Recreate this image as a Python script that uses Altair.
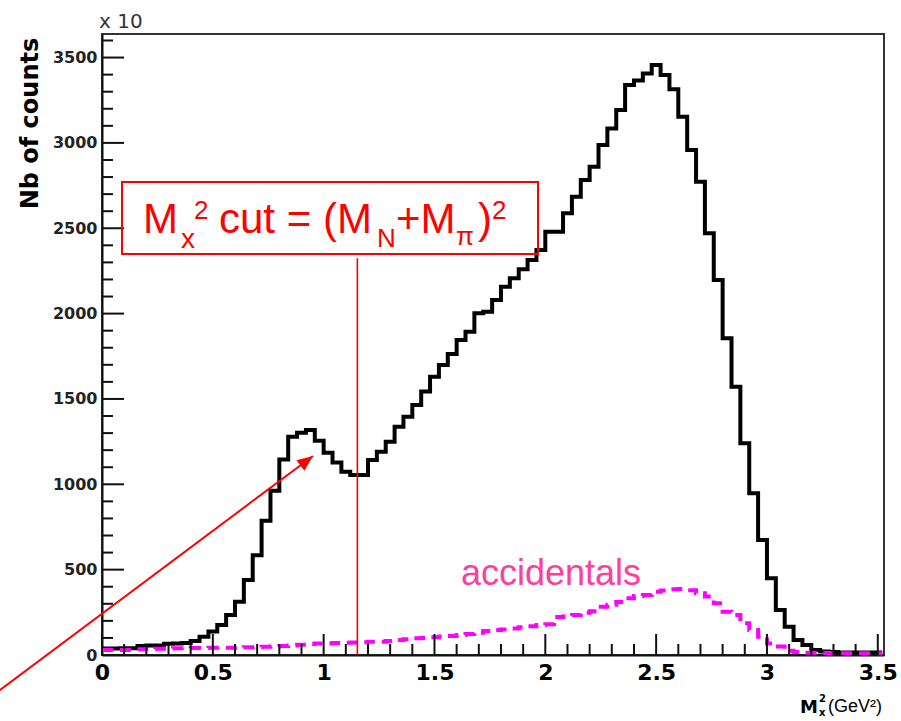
import altair as alt
import pandas as pd

# ---------------- data ----------------
BIN_WIDTH = 0.04  # GeV^2, histogram bins starting at 0

counts = [
    38, 38, 39, 40, 52, 55, 56, 66, 68, 70,
    82, 107, 137, 176, 234, 312, 439, 584, 786, 962,
    1146, 1279, 1302, 1318, 1255, 1185, 1127, 1074, 1054, 1054,
    1142, 1191, 1250, 1337, 1396, 1465, 1543, 1630, 1699, 1763,
    1845, 1894, 2002, 2011, 2080, 2158, 2207, 2260, 2314, 2373,
    2480, 2480, 2588, 2685, 2783, 2861, 2988, 3085, 3193, 3339,
    3365, 3407, 3456, 3398, 3315, 3153, 2959, 2773, 2471, 2197,
    1855, 1572, 1240, 947, 674, 449, 264, 166, 88, 59,
    29, 20, 18, 15, 15, 15, 15, 14,
]

accidentals = [
    30, 30, 30, 31, 33, 35, 37, 38, 39, 40,
    41, 41, 42, 43, 43, 44, 45, 46, 48, 50,
    53, 56, 60, 64, 68, 68, 70, 72, 73, 75,
    78, 78, 82, 88, 92, 98, 100, 104, 108, 112,
    117, 123, 130, 140, 146, 150, 155, 162, 168, 176,
    180, 222, 226, 234, 248, 256, 283, 295, 310, 332,
    345, 351, 370, 378, 385, 386, 380, 362, 342, 303,
    254, 234, 186, 146, 107, 68, 50, 25, 18, 13,
    13, 12, 10, 10, 10, 10, 10, 10,
]

mx2_cut = [1.152]          # (M_N + M_pi)^2 marker position
cut_top = [2325]           # top of the marker line (counts/10)
arrow_start = [-0.47, -214]
arrow_tip = [0.952, 1166]

Y_MAJOR = [0, 500, 1000, 1500, 2000, 2500, 3000, 3500]
Y_MINOR = [v for v in range(0, 3601, 100) if v % 500]
X_MAJOR = [0, 0.5, 1, 1.5, 2, 2.5, 3, 3.5]
X_MINOR = [round(0.1 * i, 1) for i in range(36) if i % 5]

X_DOMAIN = [0, 3.528]
Y_DOMAIN = [0, 3638]

# ---------------- tables ----------------
edges = [round(i * BIN_WIDTH, 4) for i in range(len(counts) + 1)]
hist_df = pd.DataFrame({"x": edges, "y": counts + [counts[-1]]})
acc_df = pd.DataFrame({"x": edges, "y": accidentals + [accidentals[-1]]})

xs = alt.Scale(domain=X_DOMAIN, nice=False, zero=False)
ys = alt.Scale(domain=Y_DOMAIN, nice=False, zero=False)

W, H = 782, 621
RED = "#ff0000"
one = pd.DataFrame({"a": [0]})

x_axis = alt.Axis(
    values=X_MAJOR, ticks=False, tickSize=0, grid=False,
    labelExpr="format(datum.value, '~g')",
    labelFont="DejaVu Sans", labelFontWeight="bold", labelFontSize=22,
    labelColor="#000", labelPadding=7, labelFlush=False, labelOverlap=False,
    labelBound=False,
    domainColor="#111", domainWidth=2,
    title=None,
)
y_axis = alt.Axis(
    values=Y_MAJOR, ticks=False, tickSize=0, grid=False, format="d",
    labelFont="DejaVu Sans", labelFontWeight="bold", labelFontSize=16,
    labelColor="#222", labelPadding=5, labelFlush=False, labelOverlap=False,
    labelBound=False,
    domainColor="#111", domainWidth=2,
    title="Nb of counts", titleFont="DejaVu Sans", titleFontSize=24,
    titleFontWeight="bold", titleColor="#000", titleAngle=270,
    titleAlign="center", titleBaseline="middle", titleX=-72, titleY=89,
)


def X(field):
    return alt.X(field, scale=xs, axis=x_axis)


def Y(field):
    return alt.Y(field, scale=ys, axis=y_axis)


hist = alt.Chart(hist_df).mark_line(
    interpolate="step-after", color="black", strokeWidth=4, strokeJoin="miter"
).encode(x=X("x:Q"), y=Y("y:Q"))

acc = alt.Chart(acc_df).mark_line(
    interpolate="step-after", color="#ff00ff", strokeWidth=4, strokeDash=[11, 7]
).encode(x=X("x:Q"), y=Y("y:Q"))

# inward ticks (ROOT style)
ymaj = alt.Chart(pd.DataFrame({"y": Y_MAJOR})).mark_rule(color="#111", strokeWidth=2).encode(
    y=Y("y:Q"), x=alt.value(0), x2=alt.value(22))
ymin = alt.Chart(pd.DataFrame({"y": Y_MINOR})).mark_rule(color="#111", strokeWidth=2).encode(
    y=Y("y:Q"), x=alt.value(0), x2=alt.value(11))
xmaj = alt.Chart(pd.DataFrame({"x": X_MAJOR})).mark_rule(color="#111", strokeWidth=2).encode(
    x=X("x:Q"), y=alt.value(H), y2=alt.value(H - 21))
xmin = alt.Chart(pd.DataFrame({"x": X_MINOR})).mark_rule(color="#111", strokeWidth=2).encode(
    x=X("x:Q"), y=alt.value(H), y2=alt.value(H - 11))

cut_line = alt.Chart(pd.DataFrame({"x": mx2_cut, "y": [0], "y2": cut_top})).mark_rule(
    color=RED, strokeWidth=1.6
).encode(x=X("x:Q"), y=Y("y:Q"), y2="y2:Q")

arrow_df = pd.DataFrame({"x": [arrow_start[0]], "y": [arrow_start[1]],
                         "x2": [arrow_tip[0]], "y2": [arrow_tip[1]]})
arrow_line = alt.Chart(arrow_df).mark_rule(color=RED, strokeWidth=2).encode(
    x=X("x:Q"), y=Y("y:Q"), x2="x2:Q", y2="y2:Q")
arrow_head = alt.Chart(pd.DataFrame({"x": [arrow_tip[0]], "y": [arrow_tip[1]]})).mark_point(
    shape="M0,0L-0.42,1L0.42,1Z", filled=True, color=RED, opacity=1,
    size=1000, angle=53, strokeWidth=0,
).encode(x=X("x:Q"), y=Y("y:Q"))

box = alt.Chart(one).mark_rect(fillOpacity=0, stroke=RED, strokeWidth=2).encode(
    x=alt.value(20), x2=alt.value(436), y=alt.value(148), y2=alt.value(220))


def txt(t, px, py, size, color=RED, font="Liberation Sans", weight="normal", align="left"):
    return alt.Chart(one).mark_text(
        align=align, baseline="alphabetic", font=font, fontSize=size, color=color,
        fontWeight=weight,
    ).encode(x=alt.value(px - 102), y=alt.value(py - 34), text=alt.value(t))


label_parts = [
    txt("M", 143, 233, 42),
    txt("x", 181, 248, 28),
    txt("2", 194, 219, 26),
    txt("cut = (M", 219, 233, 42),
    txt("N", 377, 247, 26),
    txt("+M", 396, 233, 42),
    txt("π", 456, 245, 26),
    txt(")", 478, 233, 42),
    txt("2", 492, 219, 26),
]

# x-axis title  M^2_x (GeV^2), ROOT-style stacked indices
x_title = [
    txt("M", 800, 713, 18, color="#000", font="DejaVu Sans", weight="bold"),
    txt("2", 819, 702, 10, color="#000", font="DejaVu Sans", weight="bold"),
    txt("x", 819, 716, 10, color="#000", font="DejaVu Sans", weight="bold"),
    txt("(GeV²)", 882, 712, 18, color="#000", font="Liberation Sans", align="right"),
]

acc_text = txt("accidentals", 461, 585, 36, color="#ff3d9e")
x10 = txt("x 10", 99, 28, 20, color="#333", font="DejaVu Sans")

chart = alt.layer(
    hist, acc, ymaj, ymin, xmaj, xmin, cut_line, box, *label_parts, *x_title,
    acc_text, x10, arrow_line, arrow_head,
).properties(
    width=W, height=H,
    autosize=alt.AutoSizeParams(type="none"),
    padding={"left": 102, "top": 34, "right": 17, "bottom": 66},
    background="white",
).configure_view(stroke="#333", strokeWidth=2)

chart.save("out.html", embed_options={"renderer": "svg", "actions": False})
